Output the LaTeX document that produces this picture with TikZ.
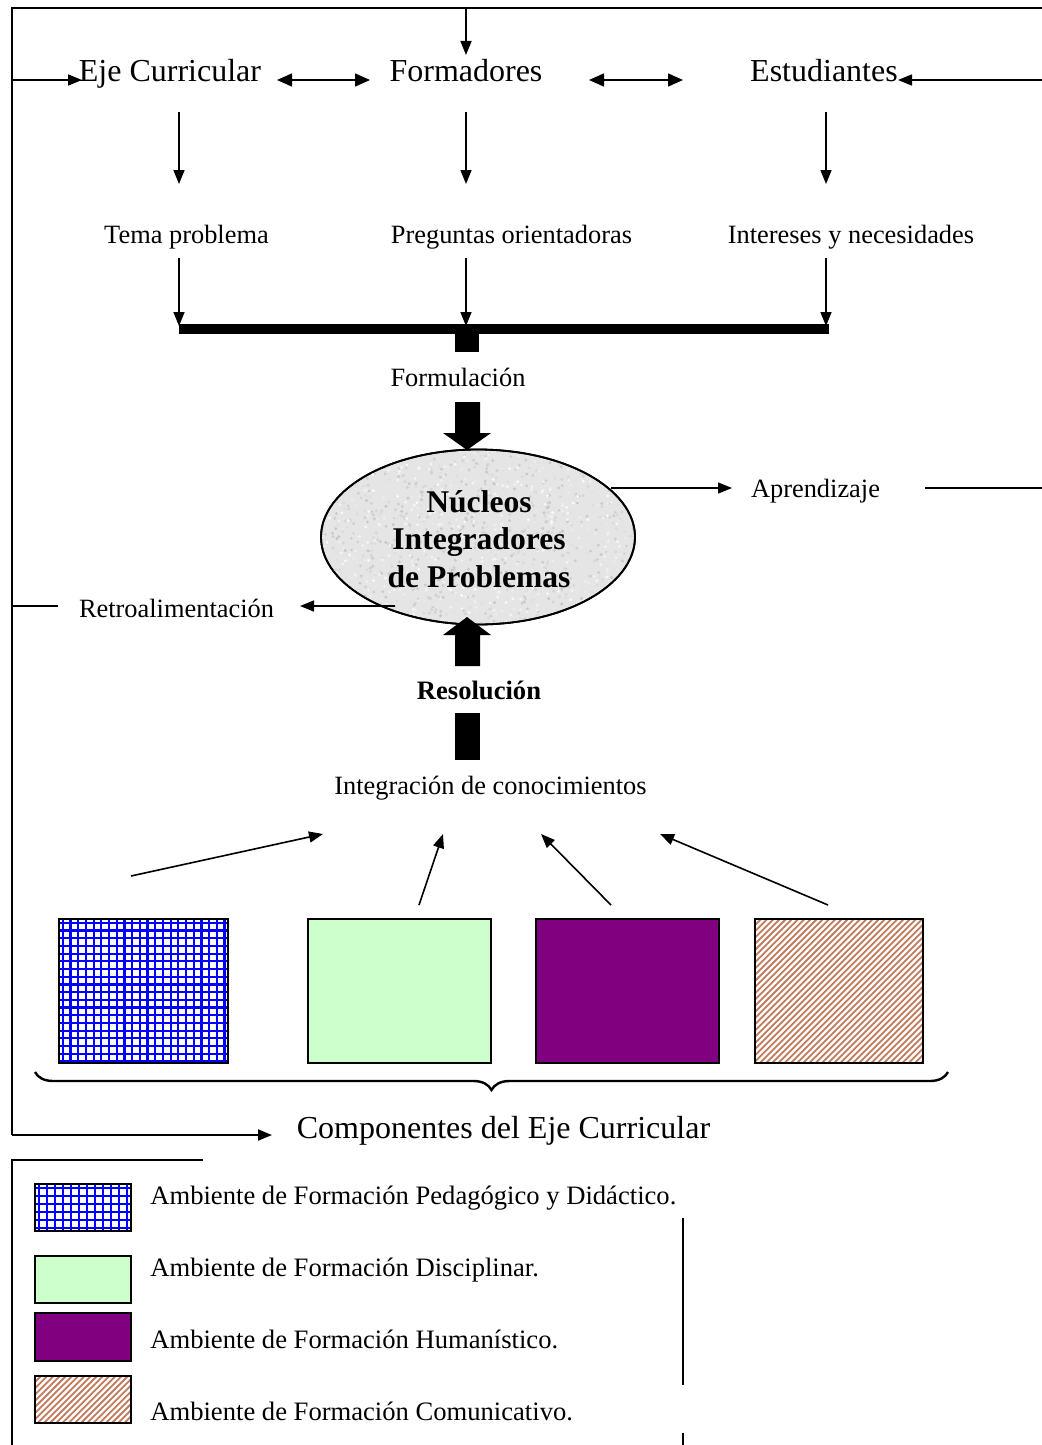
\documentclass[tikz,border=0pt]{standalone}
\usepackage{fontspec}
\setmainfont{Liberation Serif}
\usetikzlibrary{arrows.meta,shapes.geometric,decorations.pathreplacing}

\definecolor{gridblue}{RGB}{0,0,255}
\definecolor{mintfill}{RGB}{204,255,204}
\definecolor{plum}{RGB}{128,0,128}
\definecolor{rust}{RGB}{192,122,92}

% blue grid fill inside a rectangle: x0,y0,x1,y1,spacing
\newcommand{\gridpat}[5]{%
  \begin{scope}
    \clip (#1,#2) rectangle (#3,#4);
    \fill[white] (#1,#2) rectangle (#3,#4);
    \pgfmathsetmacro{\gxa}{#1+#5/2}
    \pgfmathsetmacro{\gxb}{#1+#5/2+#5}
    \foreach \gx in {\gxa,\gxb,...,#3} \draw[gridblue,line width=1.1pt] (\gx,#2) -- (\gx,#4);
    \pgfmathsetmacro{\gya}{#2+#5/2}
    \pgfmathsetmacro{\gyb}{#2+#5/2+#5}
    \foreach \gy in {\gya,\gyb,...,#4} \draw[gridblue,line width=1.1pt] (#1,\gy) -- (#3,\gy);
  \end{scope}}

% diagonal hatching inside a rectangle: x0,y0,x1,y1,spacing
\newcommand{\hatchpat}[5]{%
  \begin{scope}
    \clip (#1,#2) rectangle (#3,#4);
    \fill[white] (#1,#2) rectangle (#3,#4);
    \pgfmathsetmacro{\hh}{#4-#2}
    \pgfmathsetmacro{\hs}{#1-\hh}
    \pgfmathsetmacro{\ht}{#1-\hh+#5}
    \foreach \hx in {\hs,\ht,...,#3} \draw[rust,line width=0.9pt] (\hx,#4) -- ++(\hh,-\hh);
  \end{scope}}

\begin{document}
\begin{tikzpicture}[x=0.5pt,y=-0.5pt,
  tip/.style={-{Triangle[length=7pt,width=5.5pt]}},
  bigtip/.style={{Triangle[length=7.5pt,width=6.5pt]}-{Triangle[length=7.5pt,width=6.5pt]}},
  wire/.style={line width=0.8pt},
  frame/.style={line width=1pt},
  lbig/.style={font=\fontsize{16}{19}\selectfont, inner sep=0pt, anchor=base},
  lsmall/.style={font=\fontsize{13.2}{16}\selectfont, inner sep=0pt, anchor=base},
  legtext/.style={font=\fontsize{13.3}{16}\selectfont, inner sep=0pt, anchor=base west},
  boxline/.style={draw=black, line width=1pt}]

\useasboundingbox (0,0) rectangle (1042,1445);

% ---------- outer feedback frame ----------
\coordinate (ftl) at (12,8);
\coordinate (ftr) at (1042,8);
\coordinate (ftop) at (466,8);
\coordinate (fbl) at (12,1135);
\coordinate (fcomp) at (272,1135);
\draw[frame] (ftr) -- (ftl) -- (fbl);
\draw[frame,tip] (fbl) -- (fcomp);

% ---------- top row ----------
\node[lbig] (eje) at (170,82) {Eje Curricular};
\node[lbig] (form) at (466,82) {Formadores};
\node[lbig] (est) at (824,82) {Estudiantes};

\coordinate (ftop2) at (466,55);
\draw[wire,tip] (ftop) -- (ftop2);
\coordinate (ejeL) at (12,80);
\coordinate (ejeIn) at (82,80);
\draw[wire,tip] (ejeL) -- (ejeIn);
\coordinate (estR) at (1042,80);
\coordinate (estIn) at (898,80);
\draw[wire,tip] (estR) -- (estIn);
\coordinate (da1) at (277,80);
\coordinate (da2) at (370,80);
\draw[wire,bigtip] (da1) -- (da2);
\coordinate (db1) at (589,80);
\coordinate (db2) at (683,80);
\draw[wire,bigtip] (db1) -- (db2);

% ---------- second row ----------
\node[lsmall] (tema) at (186.5,243) {Tema problema};
\node[lsmall] (preg) at (511.5,243) {Preguntas orientadoras};
\node[lsmall] (inter) at (851,243) {Intereses y necesidades};

\foreach \cx/\nm in {179/a,466/b,826/c}{
  \coordinate (u\nm1) at (\cx,112);
  \coordinate (u\nm2) at (\cx,184);
  \coordinate (v\nm1) at (\cx,258);
  \coordinate (v\nm2) at (\cx,326);
  \draw[wire,tip] (u\nm1) -- (u\nm2);
  \draw[wire,tip] (v\nm1) -- (v\nm2);
}

% thick joining bar and its stub
\coordinate (barL) at (179,329);
\coordinate (barR) at (829,329);
\draw[line width=5pt] (barL) -- (barR);
\fill (455,333) rectangle (479,352);

\node[lsmall] (formu) at (458,386) {Formulación};

% heavy arrow down into the nucleus
\fill (455,402) -- (480,402) -- (480,433) -- (491,433) -- (467,450)
      -- (443,433) -- (455,433) -- cycle;

% ---------- central nucleus ----------
\node[ellipse, draw=black, line width=0.9pt, fill=gray!20,
      minimum width=157pt, minimum height=87.5pt, inner sep=0pt] (nip) at (478,537) {};
\begin{scope}
  \clip (478,537) ellipse [x radius=156, y radius=86.5];
  \pgfmathsetseed{7}
  \foreach \i in {1,...,1400}{
    \pgfmathsetmacro{\sx}{321+314*rnd}
    \pgfmathsetmacro{\sy}{450+175*rnd}
    \pgfmathsetmacro{\sg}{int(4+42*rnd)}
    \fill[gray!\sg] (\sx,\sy) circle (0.8pt);
  }
\end{scope}
\draw[line width=0.9pt] (478,537) ellipse [x radius=157, y radius=87.5];
\node[font=\bfseries\fontsize{15.8}{18.6}\selectfont, align=center, inner sep=0pt]
  (niptxt) at (479,539) {Núcleos\\Integradores\\de Problemas};

% learning output
\node[lsmall] (apr) at (815.5,497) {Aprendizaje};
\coordinate (aprS) at (611,488);
\coordinate (aprE) at (732,488);
\draw[wire,tip] (aprS) -- (aprE);
\coordinate (aprT1) at (925,488);
\coordinate (aprT2) at (1042,488);
\draw[wire] (aprT1) -- (aprT2);

% feedback output
\node[lsmall] (retro) at (176.5,617) {Retroalimentación};
\coordinate (retS) at (395,606);
\coordinate (retE) at (300,606);
\draw[wire,tip] (retS) -- (retE);
\coordinate (retT1) at (12,606);
\coordinate (retT2) at (58,606);
\draw[wire] (retT1) -- (retT2);

% heavy arrow up into the nucleus
\fill (455,666) -- (480,666) -- (480,635) -- (491,635) -- (467,617)
      -- (443,635) -- (455,635) -- cycle;

\node[font=\bfseries\fontsize{13.3}{16}\selectfont, inner sep=0pt, anchor=base] (reso) at (479,699) {Resolución};
\fill (455,713) rectangle (480,760);

\node[lsmall] (integ) at (490.5,794) {Integración de conocimientos};

% ---------- curricular components ----------
\gridpat{59}{919}{228}{1063}{7.7}
\draw[boxline] (59,919) rectangle (228,1063);
\fill[mintfill] (308,919) rectangle (491,1063);
\draw[boxline] (308,919) rectangle (491,1063);
\fill[plum] (536,919) rectangle (719,1063);
\draw[boxline] (536,919) rectangle (719,1063);
\hatchpat{755}{919}{923}{1063}{6.2}
\draw[boxline] (755,919) rectangle (923,1063);

\coordinate (k1s) at (131,876);  \coordinate (k1e) at (323,834);
\coordinate (k2s) at (419,905);  \coordinate (k2e) at (443,834);
\coordinate (k3s) at (611,905);  \coordinate (k3e) at (541,834);
\coordinate (k4s) at (828,905);  \coordinate (k4e) at (660,834);
\draw[wire,tip] (k1s) -- (k1e);
\draw[wire,tip] (k2s) -- (k2e);
\draw[wire,tip] (k3s) -- (k3e);
\draw[wire,tip] (k4s) -- (k4e);

\coordinate (brL) at (35,1072);
\coordinate (brR) at (948,1072);
\draw[line width=1.2pt, decorate, decoration={brace, mirror, amplitude=9pt}] (brL) -- (brR);

\node[lbig] (comp) at (503.5,1138) {Componentes del Eje Curricular};

% ---------- legend ----------
\draw[frame] (203,1160) -- (12,1160) -- (12,1445);
\draw[wire] (683,1218) -- (683,1385);
\draw[wire] (683,1433) -- (683,1445);

\gridpat{35}{1184}{131}{1231}{8}
\draw[boxline] (35,1184) rectangle (131,1231);
\fill[mintfill] (35,1256) rectangle (131,1303);
\draw[boxline] (35,1256) rectangle (131,1303);
\fill[plum] (35,1313) rectangle (131,1361);
\draw[boxline] (35,1313) rectangle (131,1361);
\hatchpat{35}{1376}{131}{1423}{6.2}
\draw[boxline] (35,1376) rectangle (131,1423);

\node[legtext] (l1) at (150,1204) {Ambiente de Formación Pedagógico y Didáctico.};
\node[legtext] (l2) at (150,1276) {Ambiente de Formación Disciplinar.};
\node[legtext] (l3) at (150,1348) {Ambiente de Formación Humanístico.};
\node[legtext] (l4) at (150,1420) {Ambiente de Formación Comunicativo.};

\end{tikzpicture}
\end{document}
